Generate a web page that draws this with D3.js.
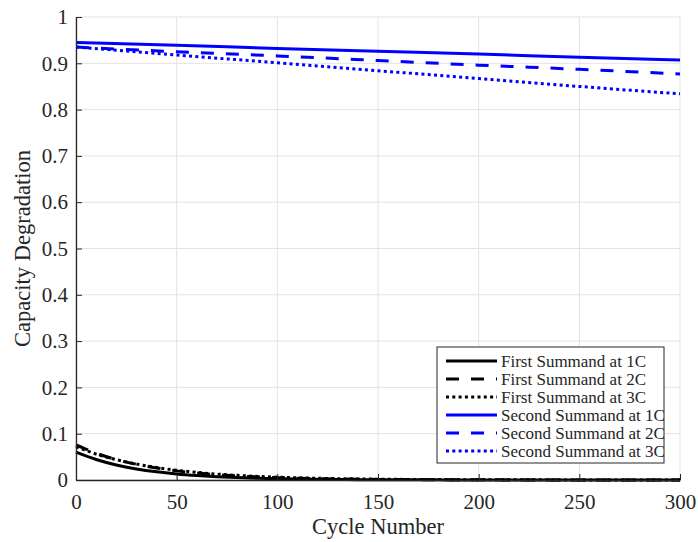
<!DOCTYPE html>
<html><head><meta charset="utf-8">
<script src="https://cdn.jsdelivr.net/npm/d3@7"></script>
<style>body{margin:0;background:#fff;} svg{display:block;} text{font-family:'Liberation Serif','Times New Roman',serif;}</style>
</head><body>
<svg id="c" width="698" height="542"></svg>
<script>
const cyclesFine = [0,10,20,30,40,50,60,70,80,90,100,110,120,130,140,150,160,170,180,190,200,210,220,230,240,250,260,270,280,290,300];
const first1C = [0.060,0.0443,0.0325,0.0239,0.0176,0.0130,0.0096,0.0070,0.0052,0.0038,0.0028,0.0021,0.0015,0.0011,0.0008,0.0006,0.0005,0.0004,0.0003,0.0002,0.0002,0.0001,0.0001,0.0001,0.0001,0,0,0,0,0,0];
const first2C = [0.076,0.058,0.044,0.034,0.026,0.0197,0.015,0.0115,0.0088,0.0067,0.0051,0.0039,0.003,0.0023,0.0017,0.0013,0.001,0.0008,0.0006,0.0005,0.0004,0.0003,0.0002,0.0002,0.0001,0.0001,0.0001,0,0,0,0];
const first3C = [0.072,0.056,0.044,0.0344,0.0269,0.021,0.0164,0.0128,0.010,0.0078,0.0061,0.0048,0.0037,0.0029,0.0023,0.0018,0.0014,0.0011,0.0009,0.0007,0.0005,0.0004,0.0003,0.0003,0.0002,0.0002,0.0001,0.0001,0.0001,0,0];
const cyclesCoarse = [0,50,100,150,200,250,300];
const second1C = [0.945,0.939,0.932,0.926,0.920,0.913,0.907];
const second2C = [0.935,0.925,0.916,0.906,0.896,0.887,0.877];
const second3C = [0.935,0.918,0.901,0.884,0.867,0.850,0.834];
const xTicks = [0,50,100,150,200,250,300];
const yTicks = [0,0.1,0.2,0.3,0.4,0.5,0.6,0.7,0.8,0.9,1];
const legendLabels = ["First Summand at 1C","First Summand at 2C","First Summand at 3C","Second Summand at 1C","Second Summand at 2C","Second Summand at 3C"];

const svg = d3.select("#c");
const L=76, R=680, T=17, B=480;
const x = d3.scaleLinear().domain([0,300]).range([L,R]);
const y = d3.scaleLinear().domain([0,1]).range([B,T]);
const font = "'Liberation Serif', 'Times New Roman', serif";
const axisCol = "#262626";

// grid
svg.append("g").selectAll("line").data(xTicks).join("line")
  .attr("x1",d=>x(d)).attr("x2",d=>x(d)).attr("y1",T).attr("y2",B)
  .attr("stroke","#e3e3e3").attr("stroke-width",1);
svg.append("g").selectAll("line").data(yTicks).join("line")
  .attr("x1",L).attr("x2",R).attr("y1",d=>y(d)).attr("y2",d=>y(d))
  .attr("stroke","#e3e3e3").attr("stroke-width",1);

// series
const series = [
  {xs:cyclesFine, ys:first1C, color:"#000", dash:null},
  {xs:cyclesFine, ys:first2C, color:"#000", dash:"13,12"},
  {xs:cyclesFine, ys:first3C, color:"#000", dash:"3,3.3"},
  {xs:cyclesCoarse, ys:second1C, color:"#0000ff", dash:null},
  {xs:cyclesCoarse, ys:second2C, color:"#0000ff", dash:"13,12"},
  {xs:cyclesCoarse, ys:second3C, color:"#0000ff", dash:"3,3.3"}
];
const line = d3.line().x(d=>x(d[0])).y(d=>y(d[1])).curve(d3.curveMonotoneX);
series.forEach(s=>{
  svg.append("path").datum(s.xs.map((c,i)=>[c,s.ys[i]]))
    .attr("d",line).attr("fill","none").attr("stroke",s.color)
    .attr("stroke-width",3).attr("stroke-dasharray",s.dash);
});

// axes
const xAxis = d3.axisBottom(x).tickValues(xTicks).tickSizeInner(-6).tickSizeOuter(0).tickPadding(14).tickFormat(d3.format("d"));
const gx = svg.append("g").attr("transform",`translate(0,${B})`).call(xAxis);
const yAxis = d3.axisLeft(y).tickValues(yTicks).tickSizeInner(-6).tickSizeOuter(0).tickPadding(8).tickFormat(d=>d===0||d===1?String(d):d3.format(".1f")(d));
const gy = svg.append("g").attr("transform",`translate(${L},0)`).call(yAxis);
[gx,gy].forEach(g=>{
  g.attr("font-family",null).attr("font-size",null);
  g.select(".domain").attr("stroke",axisCol).attr("stroke-width",1.3);
  g.selectAll(".tick line").attr("stroke",axisCol).attr("stroke-width",1);
  g.selectAll("text").style("font-family",font).style("font-size","21px").attr("fill",axisCol);
});
gx.selectAll("text").attr("dy","0.71em");

svg.append("text").attr("x",(L+R)/2).attr("y",534).attr("text-anchor","middle")
  .style("font-family",font).style("font-size","22.5px").attr("fill",axisCol).text("Cycle Number");
svg.append("text").attr("transform",`translate(30,${(T+B)/2}) rotate(-90)`).attr("text-anchor","middle")
  .style("font-family",font).style("font-size","22.5px").attr("fill",axisCol).text("Capacity Degradation");

// legend
const lg = svg.append("g");
lg.append("rect").attr("x",437).attr("y",347).attr("width",227).attr("height",116)
  .attr("fill","#fff").attr("stroke",axisCol).attr("stroke-width",1);
legendLabels.forEach((lab,i)=>{
  const cy = 361 + i*18;
  lg.append("line").attr("x1",446).attr("x2",497).attr("y1",cy).attr("y2",cy)
    .attr("stroke",series[i].color).attr("stroke-width",3).attr("stroke-dasharray",series[i].dash);
  lg.append("text").attr("x",501).attr("y",cy).attr("dy","0.35em")
    .style("font-family",font).style("font-size","17px").attr("fill",axisCol).text(lab);
});
</script>
</body></html>
